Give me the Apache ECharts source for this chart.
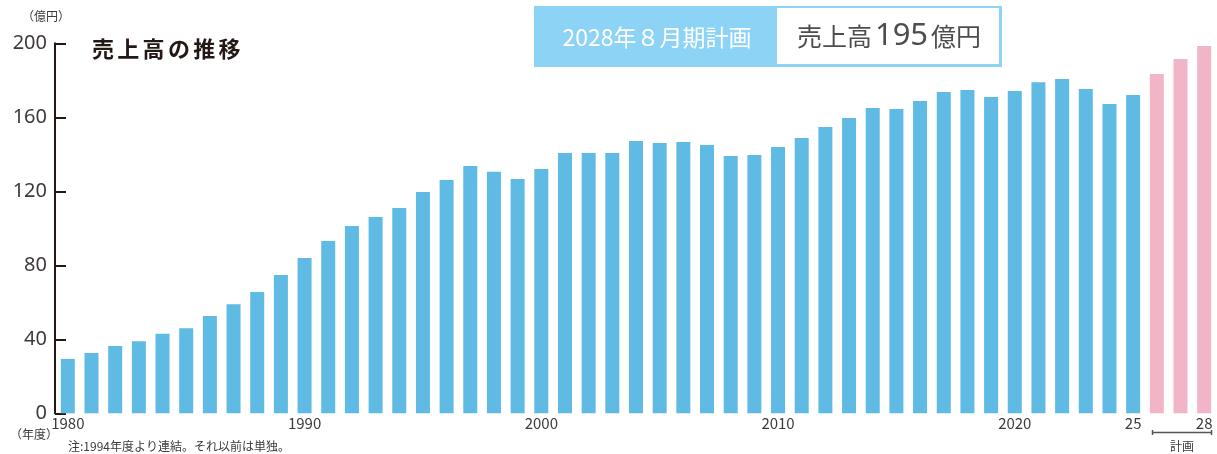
<!DOCTYPE html>
<html>
<head>
<meta charset="utf-8">
<script src="https://cdn.jsdelivr.net/npm/echarts@6/dist/echarts.min.js"></script>
<style>
html,body{margin:0;padding:0;background:#fff;}
#chart{width:1217px;height:454px;}
</style>
</head>
<body>
<div id="chart"></div>
<script>
// ---- data ----
const years = ['1980','1981','1982','1983','1984','1985','1986','1987','1988','1989',
  '1990','1991','1992','1993','1994','1995','1996','1997','1998','1999',
  '2000','2001','2002','2003','2004','2005','2006','2007','2008','2009',
  '2010','2011','2012','2013','2014','2015','2016','2017','2018','2019',
  '2020','2021','2022','2023','2024','2025','2026','2027','2028'];
const actualSales = [29.4,32.6,36.4,39,43,46,52.6,59,65.6,74.8,
  84,93.1,101.2,106.1,111,119.6,126.1,133.7,130.5,126.7,
  132.1,140.7,140.7,140.7,147.2,146.1,146.6,145,139.1,139.6,
  144,148.8,154.8,159.6,165,164.5,168.8,173.7,174.8,171,
  174.2,179,180.7,175.3,167.2,172];
const planSales = [183.4,191.5,198.5];
const tickYears = ['1980','1990','2000','2010','2020','2025','2028'];
const tickTexts = ['1980','1990','2000','2010','2020','25','28'];
const yTicks = [0,40,80,120,160,200];

const BLUE = '#5fbae4', PINK = '#f2b4c7', DARK = '#3e3a39';
const FONT = '"Noto Sans CJK JP","Noto Sans",sans-serif';

const barData = actualSales.map(v => ({value: v, itemStyle: {color: BLUE}}))
  .concat(planSales.map(v => ({value: v, itemStyle: {color: PINK}})));

const titleChars = '売上高の推移'.split('');
const titleGraphics = titleChars.map((c, i) => ({
  type: 'text', left: 92 + i * 25.3, top: 38,
  style: {text: c, font: 'bold 22px ' + FONT, fill: '#231815'}
}));

const chart = echarts.init(document.getElementById('chart'), null, {renderer: 'canvas'});
chart.setOption({
  animation: false,
  grid: {left: 56, right: 1, top: 43.3, bottom: 40.7, containLabel: false},
  xAxis: {
    type: 'category', data: years,
    axisLine: {show: false}, axisTick: {show: false},
    axisLabel: {
      interval: 0, margin: 2, fontSize: 15, color: DARK, fontFamily: FONT,
      formatter: (v) => { const k = tickYears.indexOf(v); return k >= 0 ? tickTexts[k] : ''; }
    }
  },
  yAxis: {
    type: 'value', min: yTicks[0], max: yTicks[yTicks.length - 1], interval: 40, offset: 1,
    axisLine: {show: true, lineStyle: {color: '#231815', width: 2}},
    axisTick: {show: true, inside: true, length: 11, lineStyle: {color: '#231815', width: 2}},
    axisLabel: {margin: 8, fontSize: 20, color: DARK, fontFamily: '"Noto Sans",sans-serif'},
    splitLine: {show: false}
  },
  series: [{
    type: 'bar', data: barData, barWidth: 14
  }],
  graphic: [
    {type: 'text', left: 22, top: 10, style: {text: '（億円）', font: '12px ' + FONT, fill: DARK}},
    {type: 'text', left: 10, top: 428, style: {text: '（年度）', font: '12px ' + FONT, fill: DARK}},
    {type: 'text', left: 68, top: 440, style: {text: '注:1994年度より連結。それ以前は単独。', font: '12px ' + FONT, fill: DARK}},
    // plan bracket
    {type: 'line', shape: {x1: 1152, y1: 432.5, x2: 1212, y2: 432.5}, style: {stroke: '#555', lineWidth: 1.5}},
    {type: 'line', shape: {x1: 1152.5, y1: 430, x2: 1152.5, y2: 435}, style: {stroke: '#555', lineWidth: 1.5}},
    {type: 'line', shape: {x1: 1211.5, y1: 430, x2: 1211.5, y2: 435}, style: {stroke: '#555', lineWidth: 1.5}},
    {type: 'text', left: 1170, top: 440, style: {text: '計画', font: '12px ' + FONT, fill: DARK}},
    // banner
    {type: 'rect', shape: {x: 534, y: 6, width: 468, height: 61}, style: {fill: '#8dd3f5'}},
    {type: 'rect', shape: {x: 777, y: 8, width: 222, height: 56}, style: {fill: '#fff'}},
    {type: 'text', x: 657, y: 37, style: {text: '2028年８月期計画', font: '23px ' + FONT, fill: '#fff', align: 'center', verticalAlign: 'middle'}},
    {type: 'text', x: 889, y: 36, style: {
      text: '{a|売上高}{b|195}{a|億円}', align: 'center', verticalAlign: 'middle',
      rich: {
        a: {fontFamily: FONT, fontSize: 25, fill: '#4d4d4d', color: '#4d4d4d'},
        b: {fontFamily: '"Noto Sans",sans-serif', fontSize: 31, fill: '#4d4d4d', color: '#4d4d4d', padding: [0, 3, 0, 3]}
      }
    }}
  ].concat(titleGraphics)
});
</script>
</body>
</html>
